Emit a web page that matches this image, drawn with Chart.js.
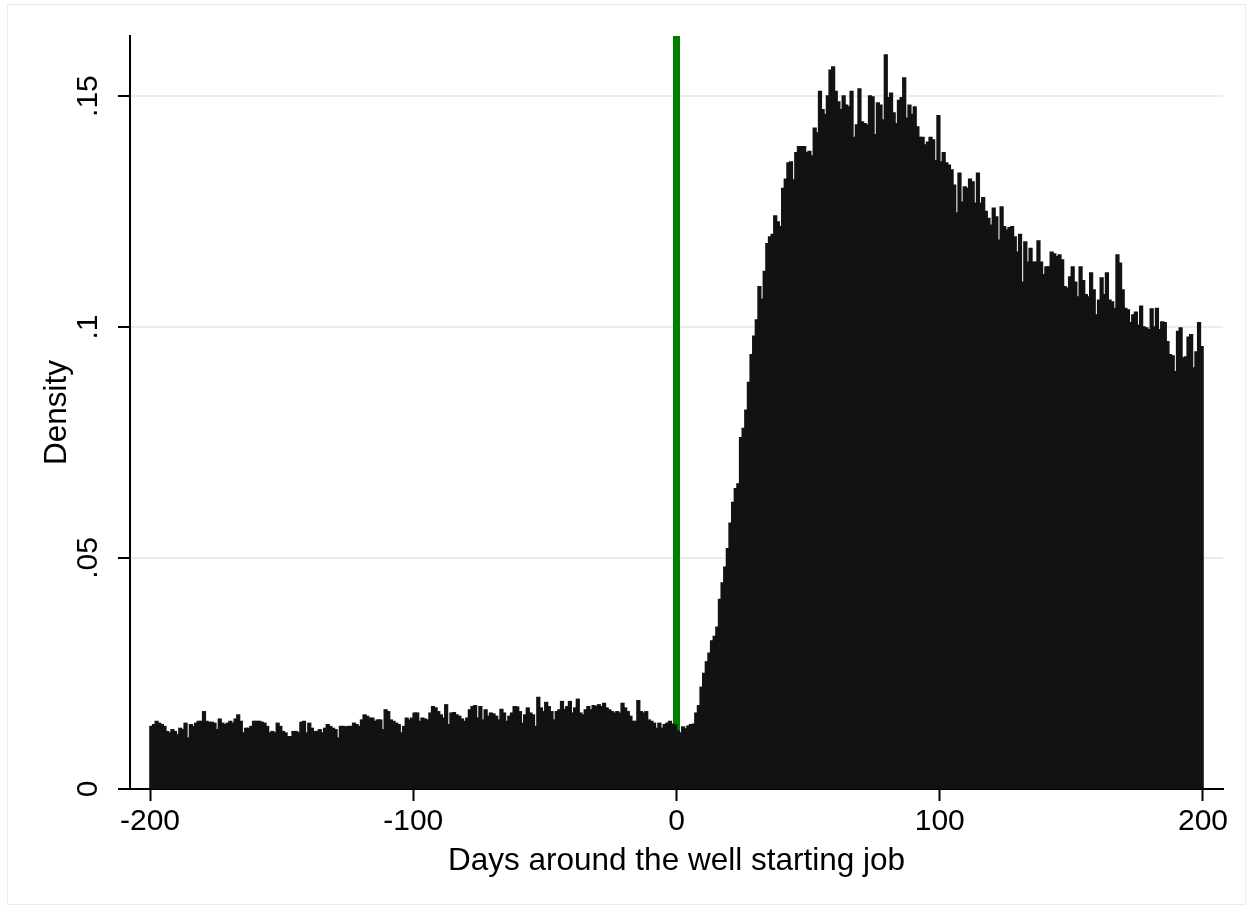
<!DOCTYPE html>
<html>
<head>
<meta charset="utf-8">
<script src="https://cdn.jsdelivr.net/npm/chart.js@4"></script>
<style>
  html, body { margin: 0; padding: 0; background: #fff; }
  canvas { display: block; }
</style>
</head>
<body>
<canvas id="histChart" width="1253" height="909"></canvas>
<script>
// one-day bins from -200 to 199
const days = Array.from({ length: 400 }, (_, i) => -200 + i);

// density per bin
const densityBefore = [
  .0135, .0139, .0146, .0142, .0139, .0135, .0124, .0121, .0128, .0124,
  .0117, .0131, .0128, .0142, .0110, .0139, .0135, .0142, .0146, .0146,
  .0167, .0146, .0144, .0144, .0142, .0128, .0151, .0142, .0139, .0142,
  .0146, .0142, .0151, .0160, .0146, .0121, .0131, .0131, .0135, .0146,
  .0146, .0146, .0144, .0142, .0135, .0121, .0124, .0121, .0142, .0135,
  .0124, .0121, .0113, .0113, .0124, .0124, .0121, .0144, .0146, .0121,
  .0142, .0131, .0124, .0124, .0128, .0121, .0131, .0139, .0135, .0131,
  .0128, .0110, .0135, .0135, .0134, .0135, .0135, .0142, .0139, .0135,
  .0149, .0160, .0157, .0153, .0153, .0146, .0149, .0149, .0128, .0171,
  .0167, .0149, .0146, .0142, .0139, .0121, .0135, .0153, .0149, .0153,
  .0164, .0164, .0146, .0153, .0151, .0149, .0164, .0178, .0175, .0167,
  .0160, .0153, .0182, .0139, .0164, .0165, .0160, .0157, .0151, .0146,
  .0153, .0171, .0178, .0180, .0153, .0178, .0149, .0171, .0157, .0164,
  .0162, .0157, .0149, .0172, .0164, .0146, .0157, .0164, .0178, .0177,
  .0167, .0142, .0160, .0175, .0164, .0160, .0135, .0198, .0175, .0167,
  .0187, .0178, .0167, .0149, .0167, .0171, .0189, .0172, .0178, .0189,
  .0164, .0175, .0194, .0164, .0160, .0171, .0178, .0171, .0180, .0178,
  .0182, .0178, .0185, .0175, .0171, .0167, .0164, .0167, .0164, .0185,
  .0175, .0167, .0157, .0146, .0146, .0191, .0167, .0164, .0167, .0149,
  .0146, .0142, .0131, .0142, .0131, .0139, .0142, .0146, .0140, .0138
];
const densityAfter = [
  .0125, .0121, .0134, .0130, .0136, .0139, .0140, .0164, .0180, .0220,
  .0250, .0275, .0294, .0320, .0330, .0350, .0410, .0446, .0480, .0520,
  .0575, .0620, .0650, .0660, .0760, .0780, .0820, .0880, .0940, .0980,
  .1015, .1087, .1060, .1120, .1180, .1195, .1200, .1240, .1227, .1217,
  .1300, .1320, .1355, .1357, .1318, .1377, .1390, .1390, .1390, .1377,
  .1380, .1370, .1430, .1420, .1510, .1470, .1460, .1500, .1556, .1563,
  .1510, .1487, .1470, .1500, .1480, .1476, .1510, .1410, .1437, .1515,
  .1444, .1440, .1437, .1500, .1498, .1416, .1485, .1480, .1448, .1589,
  .1496, .1506, .1463, .1440, .1490, .1496, .1539, .1452, .1480, .1460,
  .1476, .1433, .1410, .1410, .1394, .1400, .1410, .1405, .1360, .1457,
  .1357, .1377, .1355, .1350, .1340, .1307, .1247, .1333, .1270, .1303,
  .1300, .1320, .1314, .1268, .1333, .1268, .1280, .1250, .1235, .1220,
  .1257, .1238, .1188, .1260, .1217, .1210, .1215, .1217, .1195, .1162,
  .1200, .1097, .1184, .1140, .1170, .1140, .1140, .1186, .1140, .1113,
  .1130, .1130, .1162, .1158, .1152, .1156, .1145, .1087, .1084, .1108,
  .1130, .1097, .1065, .1130, .1100, .1070, .1065, .1117, .1080, .1026,
  .1058, .1106, .1070, .1117, .1058, .1054, .1040, .1156, .1138, .1080,
  .1040, .1037, .1009, .1026, .1032, .1004, .1045, .1000, .0998, .0994,
  .1039, .1000, .1040, .0994, .1011, .1009, .0968, .0940, .0937, .0903,
  .0990, .0998, .0933, .0935, .0978, .0983, .0911, .0946, .1009, .0957
];
const density = densityBefore.concat(densityAfter);

const xTicks = [-200, -100, 0, 100, 200];
const yTicks = [0, 0.05, 0.1, 0.15];
const yTickLabels = ["0", ".05", ".1", ".15"];
const eventDay = 0;

const FONT = "'Liberation Sans', Arial, Helvetica, sans-serif";

// green line at the start day, drawn under the bars
const eventLine = {
  id: "eventLine",
  beforeDatasetsDraw(chart) {
    const { ctx, chartArea, scales } = chart;
    const x = scales.x.getPixelForValue(eventDay);
    ctx.save();
    ctx.strokeStyle = "#008000";
    ctx.lineWidth = 7;
    ctx.beginPath();
    ctx.moveTo(x, chartArea.top);
    ctx.lineTo(x, chartArea.bottom - 2);
    ctx.stroke();
    ctx.restore();
  }
};

// white background and the thin outer frame
const frame = {
  id: "frame",
  beforeDraw(chart) {
    const { ctx, width, height } = chart;
    ctx.save();
    ctx.fillStyle = "#fff";
    ctx.fillRect(0, 0, width, height);
    ctx.strokeStyle = "#e6eef0";
    ctx.lineWidth = 1;
    ctx.strokeRect(7.5, 4.5, width - 15, height - 9);
    ctx.restore();
  }
};

new Chart(document.getElementById("histChart"), {
  type: "bar",
  data: {
    datasets: [{
      data: days.map((d, i) => ({ x: d + 0.5, y: density[i] })),
      backgroundColor: "#121212",
      borderWidth: 0,
      barPercentage: 1,
      categoryPercentage: 1,
      inflateAmount: 0.8
    }]
  },
  options: {
    responsive: false,
    animation: false,
    devicePixelRatio: 1,
    layout: { padding: { left: 0, right: 30, top: 36, bottom: 0 } },
    plugins: {
      legend: { display: false },
      tooltip: { enabled: false }
    },
    scales: {
      x: {
        type: "linear",
        min: -207.6,
        max: 207.6,
        offset: false,
        afterBuildTicks: (s) => { s.ticks = xTicks.map(v => ({ value: v })); },
        afterFit: (s) => { s.height = 120; },
        ticks: {
          autoSkip: false,
          maxRotation: 0,
          color: "#000",
          padding: 3,
          font: { family: FONT, size: 30 }
        },
        grid: {
          offset: false,
          drawOnChartArea: false,
          tickColor: "#000",
          tickLength: 12,
          tickWidth: 2
        },
        border: { color: "#000", width: 2 },
        title: {
          display: true,
          text: "Days around the well starting job",
          color: "#000",
          font: { family: FONT, size: 31.5 },
          padding: { top: 0, bottom: 29 }
        }
      },
      y: {
        min: 0,
        max: 0.163,
        afterBuildTicks: (s) => { s.ticks = yTicks.map(v => ({ value: v })); },
        afterFit: (s) => { s.width = 130; },
        ticks: {
          autoSkip: false,
          minRotation: 90,
          maxRotation: 90,
          crossAlign: "center",
          padding: 8,
          color: "#000",
          font: { family: FONT, size: 30 },
          callback: (v, i) => yTickLabels[i]
        },
        grid: {
          color: "#e6eef0",
          lineWidth: 2,
          tickColor: "#000",
          tickLength: 12,
          tickWidth: 2
        },
        border: { color: "#000", width: 2 },
        title: {
          display: true,
          text: "Density",
          color: "#000",
          font: { family: FONT, size: 31.5 },
          padding: { top: 38, bottom: 0 }
        }
      }
    }
  },
  plugins: [frame, eventLine]
});
</script>
</body>
</html>
